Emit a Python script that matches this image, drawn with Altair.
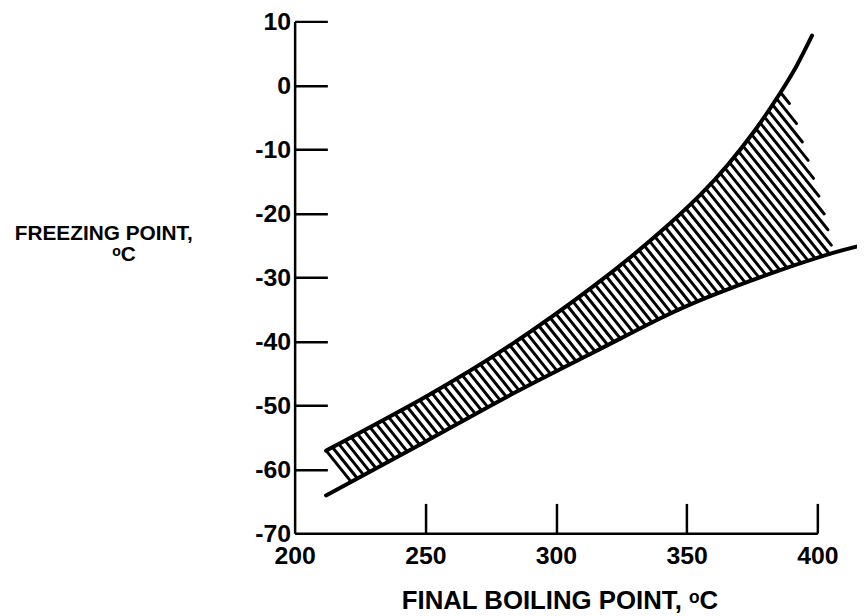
import altair as alt
import numpy as np
import pandas as pd

# ---------------- data ----------------
x_label_values = [200, 250, 300, 350, 400]
x_tick_values = [250, 300, 350, 400]
y_label_values = [-70, -60, -50, -40, -30, -20, -10, 0, 10]
y_tick_values = [-60, -50, -40, -30, -20, -10, 0, 10]

# upper boundary curve (final boiling point, freezing point)
upper_x = [212, 250, 283, 315, 338, 355, 366, 376, 385, 392, 398]
upper_y = [-57.1, -48.7, -40.5, -31.2, -23.6, -17.2, -12.3, -7.1, -1.7, 3.0, 7.8]

# lower boundary curve
lower_x = [212, 250, 283, 315, 340, 360, 385, 406, 415]
lower_y = [-64.1, -55.7, -48.3, -41.6, -36.4, -32.8, -29.0, -26.2, -25.2]

# right (open) edge of the hatched region
edge_x = [387, 391, 397, 403, 406]
edge_y = [-0.4, -4.6, -12.4, -20.6, -26.2]

# ---------------- layout ----------------
W, H = 527, 516
X_DOM = [200, 400]
Y_DOM = [-70, 10]
HATCH_SLOPE = 1.25   # pixel slope of hatch lines (down to the right)
HATCH_GAP = 9.0      # horizontal pixel spacing between hatch lines


def to_px(x, y):
    X = (np.asarray(x, float) - X_DOM[0]) * W / (X_DOM[1] - X_DOM[0])
    Y = (Y_DOM[1] - np.asarray(y, float)) * H / (Y_DOM[1] - Y_DOM[0])
    return X, Y


def to_data(X, Y):
    x = X * (X_DOM[1] - X_DOM[0]) / W + X_DOM[0]
    y = Y_DOM[1] - Y * (Y_DOM[1] - Y_DOM[0]) / H
    return x, y


def natural_spline(xs, ys, n=500):
    # natural cubic spline resampling (same curve type as Vega's "natural"),
    # used only to shape the hatch boundary
    xs = np.asarray(xs, float)
    ys = np.asarray(ys, float)
    k = len(xs)
    h = np.diff(xs)
    A = np.zeros((k, k))
    b = np.zeros(k)
    A[0, 0] = A[-1, -1] = 1
    for i in range(1, k - 1):
        A[i, i - 1] = h[i - 1]
        A[i, i] = 2 * (h[i - 1] + h[i])
        A[i, i + 1] = h[i]
        b[i] = 6 * ((ys[i + 1] - ys[i]) / h[i] - (ys[i] - ys[i - 1]) / h[i - 1])
    M = np.linalg.solve(A, b)
    xx = np.linspace(xs[0], xs[-1], n)
    yy = np.empty_like(xx)
    for j, xv in enumerate(xx):
        i = min(np.searchsorted(xs, xv, side="right") - 1, k - 2)
        t1 = xs[i + 1] - xv
        t0 = xv - xs[i]
        yy[j] = (M[i] * t1**3 / (6 * h[i]) + M[i + 1] * t0**3 / (6 * h[i])
                 + (ys[i] / h[i] - M[i] * h[i] / 6) * t1
                 + (ys[i + 1] / h[i] - M[i + 1] * h[i] / 6) * t0)
    return xx, yy


ux, uy = natural_spline(upper_x, upper_y)
lx, ly = natural_spline(lower_x, lower_y)

# hatched region polygon: upper curve -> right edge -> lower curve back
poly_x = list(ux[ux < edge_x[0]]) + edge_x + list(lx[lx < edge_x[-1]][::-1])
poly_y = list(uy[ux < edge_x[0]]) + edge_y + list(ly[lx < edge_x[-1]][::-1])
PX, PY = to_px(poly_x, poly_y)
PX = np.append(PX, PX[0])
PY = np.append(PY, PY[0])

s = HATCH_SLOPE
cvals = s * PX - PY
c = cvals[0] + 0.3
cmax = cvals.max()
rows = []
while c < cmax:
    pts = []
    for i in range(len(PX) - 1):
        f1 = s * PX[i] - PY[i] - c
        f2 = s * PX[i + 1] - PY[i + 1] - c
        if (f1 > 0) != (f2 > 0):
            t = f1 / (f1 - f2)
            pts.append((PX[i] + t * (PX[i + 1] - PX[i]), PY[i] + t * (PY[i + 1] - PY[i])))
    pts.sort()
    for k in range(0, len(pts) - 1, 2):
        xa, ya = to_data(*pts[k])
        xb, yb = to_data(*pts[k + 1])
        rows.append({"x": xa, "y": ya, "x2": xb, "y2": yb})
    c += s * HATCH_GAP

hatch_df = pd.DataFrame(rows)
upper_df = pd.DataFrame({"x": upper_x, "y": upper_y})
lower_df = pd.DataFrame({"x": lower_x, "y": lower_y})

FONT = "Liberation Sans, Arial, Helvetica, sans-serif"

xscale = alt.Scale(domain=X_DOM, nice=False, zero=False)
yscale = alt.Scale(domain=Y_DOM, nice=False, zero=False)

x_main_axis = alt.Axis(
    orient="bottom", values=x_label_values, ticks=False, tickSize=0, grid=False,
    domain=True, domainColor="black", domainWidth=2.5,
    labelFont=FONT, labelFontSize=25, labelFontWeight="bold", labelColor="black",
    labelPadding=11, labelFlush=False, labelOverlap=False, labelExpr="'' + datum.value",
    title="FINAL BOILING POINT, \u1d52C", titleFont=FONT, titleFontSize=26,
    titleFontWeight="bold", titleColor="black", titleAlign="center",
    titleBaseline="alphabetic", titleX=267, titleY=76,
)
y_main_axis = alt.Axis(
    orient="left", values=y_label_values, ticks=False, tickSize=0, grid=False,
    domain=True, domainColor="black", domainWidth=2.5,
    labelFont=FONT, labelFontSize=25, labelFontWeight="bold", labelColor="black",
    labelPadding=4, labelFlush=False, labelOverlap=False, labelExpr="'' + datum.value",
    title=["FREEZING POINT,", "\u200b" + "\u00a0" * 7 + "\u1d52C"], titleFont=FONT,
    titleFontSize=21, titleFontWeight="bold", titleColor="black", titleAngle=0,
    titleAlign="center", titleBaseline="alphabetic", titleX=-193, titleY=220,
    titleLineHeight=21,
)
x_tick_axis = alt.Axis(
    orient="top", offset=-H, values=x_tick_values, ticks=True, tickSize=30, tickWidth=2.5,
    tickColor="black", labels=False, domain=False, grid=False, title=None,
)
y_tick_axis = alt.Axis(
    orient="right", offset=-W, values=y_tick_values, ticks=True, tickSize=33, tickWidth=2.5,
    tickColor="black", labels=False, domain=False, grid=False, title=None,
)

hatch = alt.Chart(hatch_df).mark_rule(color="black", strokeWidth=3.0, strokeCap="round").encode(
    x=alt.X("x:Q", scale=xscale, axis=x_main_axis),
    x2="x2:Q",
    y=alt.Y("y:Q", scale=yscale, axis=y_main_axis),
    y2="y2:Q",
)

upper = alt.Chart(upper_df).mark_line(
    color="black", strokeWidth=4, strokeCap="round", interpolate="natural"
).encode(
    x=alt.X("x:Q", scale=xscale, axis=x_tick_axis),
    y=alt.Y("y:Q", scale=yscale, axis=y_tick_axis),
    order="x:Q",
)

lower = alt.Chart(lower_df).mark_line(
    color="black", strokeWidth=4, strokeCap="round", interpolate="natural"
).encode(
    x=alt.X("x:Q", scale=xscale, axis=None),
    y=alt.Y("y:Q", scale=yscale, axis=None),
    order="x:Q",
)

chart = (
    alt.layer(hatch, upper, lower)
    .resolve_axis(x="independent", y="independent")
    .properties(
        width=W, height=H,
        autosize=alt.AutoSizeParams(type="none"),
        padding={"left": 289, "top": 11, "right": 40, "bottom": 79},
        background="white",
    )
    .configure_view(stroke=None)
)

chart.save("out.html", embed_options={"renderer": "svg", "actions": False})
